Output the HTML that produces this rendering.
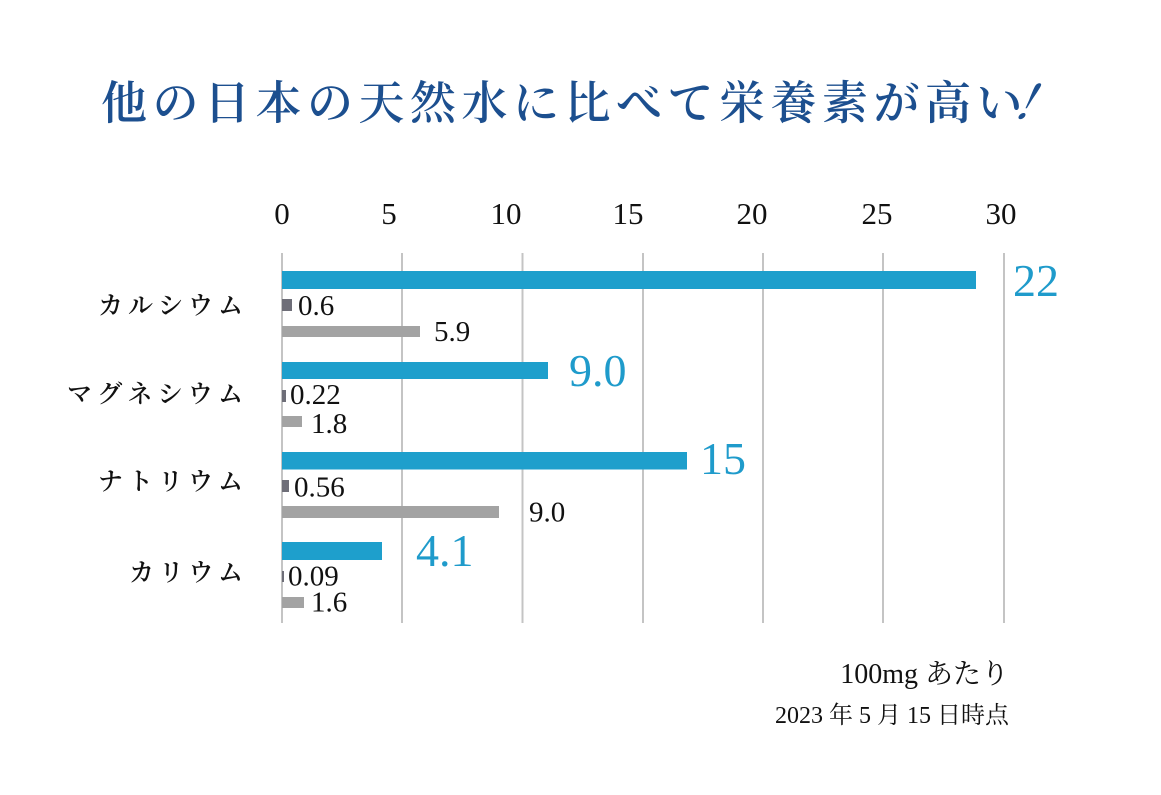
<!DOCTYPE html>
<html>
<head>
<meta charset="utf-8">
<style>
  html,body{margin:0;padding:0;background:#fff;}
  svg{display:block;}
  .num{font-family:"Liberation Serif","Noto Serif CJK SC",serif;}
  .jp{font-family:"Liberation Serif","Noto Serif CJK SC","Noto Serif CJK JP",serif;}
</style>
</head>
<body>
<svg width="1161" height="795" viewBox="0 0 1161 795" xmlns="http://www.w3.org/2000/svg">
  <rect width="1161" height="795" fill="#ffffff"/>

  <!-- Title -->
  <text class="jp" font-size="46" font-weight="600" fill="#1c4f8f" y="119"
        x="101 152.5 204 255.5 307 358.5 410 461.5 513 564.5 616 667.5 719 770.5 822 873.5 925 976.5">他の日本の天然水に比べて栄養素が高い</text>
  <text class="jp" font-size="46" font-weight="600" fill="#1c4f8f" transform="translate(1032,119) skewX(-28)" x="-23" y="0">！</text>

  <!-- Tick labels -->
  <g class="num" font-size="31" fill="#111" text-anchor="middle">
    <text x="282" y="224">0</text>
    <text x="389" y="224">5</text>
    <text x="506" y="224">10</text>
    <text x="628" y="224">15</text>
    <text x="752" y="224">20</text>
    <text x="877" y="224">25</text>
    <text x="1001" y="224">30</text>
  </g>

  <!-- Gridlines -->
  <g stroke="#c4c4c4" stroke-width="2">
    <line x1="282" y1="253" x2="282" y2="623"/>
    <line x1="402" y1="253" x2="402" y2="623"/>
    <line x1="522.5" y1="253" x2="522.5" y2="623"/>
    <line x1="643" y1="253" x2="643" y2="623"/>
    <line x1="763" y1="253" x2="763" y2="623"/>
    <line x1="883" y1="253" x2="883" y2="623"/>
    <line x1="1004" y1="253" x2="1004" y2="623"/>
  </g>

  <!-- Blue bars -->
  <g fill="#1e9fcc">
    <rect x="282" y="271" width="694" height="18"/>
    <rect x="282" y="362" width="266" height="17"/>
    <rect x="282" y="452" width="405" height="17.5"/>
    <rect x="282" y="542" width="100" height="18"/>
  </g>
  <!-- Dark bars -->
  <g fill="#6e6e78">
    <rect x="282" y="299" width="10" height="12"/>
    <rect x="282" y="390" width="4" height="12"/>
    <rect x="282" y="480" width="7" height="12"/>
    <rect x="282" y="571" width="2" height="11"/>
  </g>
  <!-- Gray bars -->
  <g fill="#a3a3a3">
    <rect x="282" y="326" width="138" height="11"/>
    <rect x="282" y="416" width="20" height="11"/>
    <rect x="282" y="506" width="217" height="12"/>
    <rect x="282" y="597" width="22" height="11"/>
  </g>

  <!-- Blue value labels -->
  <g class="num" font-size="46" fill="#1f9bcb">
    <text x="1013" y="296">22</text>
    <text x="569" y="386">9.0</text>
    <text x="700" y="474">15</text>
    <text x="416" y="566">4.1</text>
  </g>

  <!-- Black value labels -->
  <g class="num" font-size="29" fill="#111">
    <text x="298" y="315">0.6</text>
    <text x="434" y="341">5.9</text>
    <text x="290" y="404">0.22</text>
    <text x="311" y="433">1.8</text>
    <text x="294" y="496.5">0.56</text>
    <text x="529" y="521.5">9.0</text>
    <text x="288" y="585.5">0.09</text>
    <text x="311" y="611.5">1.6</text>
  </g>

  <!-- Category labels -->
  <g class="jp" font-size="25" font-weight="600" fill="#111">
    <text y="314" x="98 128 158 188 218">カルシウム</text>
    <text y="402.5" x="67 97.2 127.4 157.6 187.8 218">マグネシウム</text>
    <text y="490" x="98 128 158 188 218">ナトリウム</text>
    <text y="581" x="129 158.7 188.4 218">カリウム</text>
  </g>

  <!-- Footnotes -->
  <text class="jp" font-size="28" fill="#111" x="1009" y="683" text-anchor="end">100mg あたり</text>
  <text class="jp" font-size="24" fill="#111" x="1009" y="723" text-anchor="end">2023 年 5 月 15 日時点</text>
</svg>
</body>
</html>
